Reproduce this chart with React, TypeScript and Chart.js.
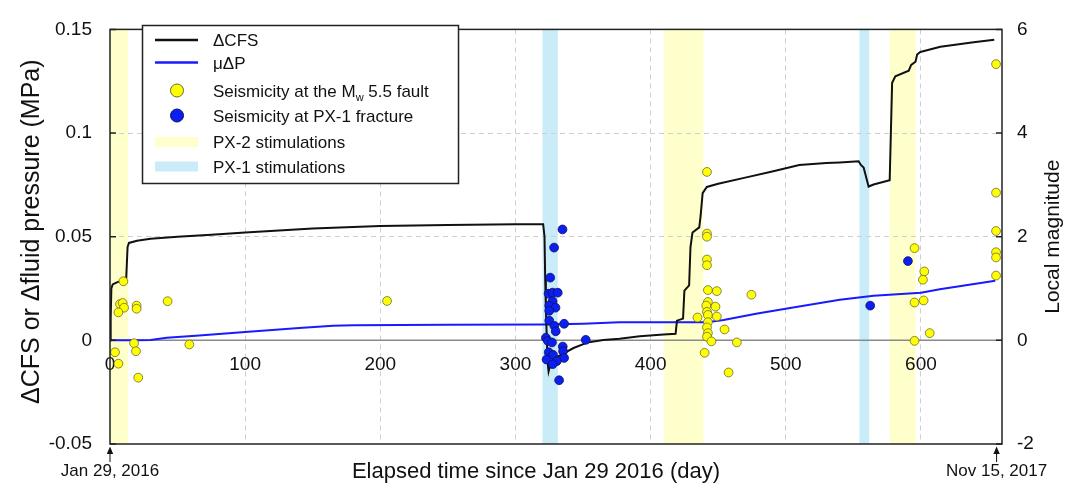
import React, { useEffect, useRef } from 'react';
import { Chart, registerables } from 'chart.js';
Chart.register(...registerables);

// ---------- data ----------
const X_TICKS = [0, 100, 200, 300, 400, 500, 600];
const LEFT_TICKS = [-0.05, 0, 0.05, 0.1, 0.15];
const LEFT_TICK_LABELS = ['-0.05', '0', '0.05', '0.1', '0.15'];
const RIGHT_TICKS = [-2, 0, 2, 4, 6];
const RIGHT_TICK_LABELS = ['-2', '0', '2', '4', '6'];

const CFS_DAYS = [0, 0.5, 1, 2, 5, 10, 12, 13, 14, 20, 30, 50, 75, 100, 150, 200, 250, 300, 320.5,
  321.5, 322, 322.5, 323, 323.5, 324, 324.5, 326, 328, 335, 343, 353, 365, 377, 392, 409.6,
  418.5, 419.5, 424, 425, 428.5, 429.5, 431, 436, 437, 438.5, 441.6, 450, 470, 490, 510, 530, 540,
  553.9, 555.6, 557.6, 559.6, 561.3, 565, 576.9, 578.7, 581.1, 591, 592.8, 596, 597.2, 599.6,
  614.4, 639, 654.3];
const CFS_VALUES = [0, 0.01, 0.025, 0.027, 0.028, 0.029, 0.03, 0.045, 0.047, 0.048, 0.049, 0.05, 0.051,
  0.052, 0.054, 0.0552, 0.0557, 0.056, 0.056,
  0.05, 0.03, 0.015, 0.005, -0.005, -0.012, -0.015, -0.011, -0.009, -0.0065, -0.0037, -0.0011,
  0.0002, 0.0008, 0.002, 0.0028,
  0.0032, 0.0095, 0.0105, 0.024, 0.0265, 0.045, 0.052, 0.0545, 0.06, 0.071, 0.074, 0.0755, 0.0785,
  0.0815, 0.0846, 0.0855, 0.0858,
  0.0864, 0.0846, 0.0834, 0.0784, 0.0742, 0.0752, 0.0773, 0.1243, 0.1274, 0.1301, 0.1329, 0.1344,
  0.1379, 0.1391, 0.1416, 0.1438, 0.145];

const P_DAYS = [0, 20, 30, 42, 66, 100, 140, 165, 180, 250, 320, 350, 377, 392, 442, 454, 479, 511,
  540, 565, 600, 614, 655];
const P_VALUES = [0, 0, 0.0002, 0.0013, 0.0023, 0.004, 0.006, 0.007, 0.0073, 0.0075, 0.0076, 0.008,
  0.0087, 0.0087, 0.0087, 0.0098, 0.013, 0.0165, 0.0196, 0.0215, 0.023, 0.0246, 0.0288];

const FAULT_DAYS = [9.9, 7.4, 9.4, 10.4, 6.2, 19.7, 19.7, 42.6, 17.8, 3.7, 19.2, 58.7, 6.2, 20.9, 205,
  441.7, 441.7, 441.7, 441.7, 441.7, 442.4, 449, 474.6, 442.4, 441.2, 448, 441.7, 434.7, 442.4, 449,
  442.4, 441.7, 454.7, 442.4, 441.7, 445, 463.8, 440, 457.7,
  655.6, 655.6, 655.6, 655.6, 655.6, 655.6, 595.3, 602.5, 601.5, 595.3, 602, 606.5, 595.3];
const FAULT_MAGS = [1.14, 0.7, 0.72, 0.63, 0.54, 0.67, 0.61, 0.755, -0.056, -0.23, -0.21, -0.08, -0.45, -0.72, 0.76,
  3.25, 2.06, 2.0, 1.56, 1.45, 0.97, 0.95, 0.88, 0.74, 0.67, 0.65, 0.55, 0.44, 0.49, 0.46,
  0.35, 0.25, 0.21, 0.14, 0.07, -0.02, -0.04, -0.24, -0.62,
  5.33, 2.85, 2.11, 1.7, 1.6, 1.25, 1.78, 1.33, 1.17, 0.73, 0.77, 0.14, -0.01];

const PX1_DAYS = [334.8, 328.6, 325.7, 324.5, 327.5, 331.3, 327.5, 325, 329.6, 325, 325, 336, 328.8, 329.8,
  352, 322.5, 324, 327, 335, 335.2, 324.6, 327.8, 323, 336, 330.6, 327.5, 332.3, 590.4, 562.5];
const PX1_MAGS = [2.14, 1.79, 1.21, 0.9, 0.92, 0.92, 0.755, 0.67, 0.63, 0.57, 0.38, 0.32, 0.28, 0.175,
  0.01, 0.05, -0.01, -0.04, -0.12, -0.21, -0.23, -0.28, -0.37, -0.34, -0.4, -0.46, -0.77, 1.53, 0.67];

const PX2_BAND_STARTS = [0, 410, 577];
const PX2_BAND_ENDS = [13.5, 439, 596];
const PX1_BAND_STARTS = [320, 554.5];
const PX1_BAND_ENDS = [331.3, 561.7];

const DATE_LABELS = ['Jan 29, 2016', 'Nov 15, 2017'];
const DATE_DAYS = [0, 656];

const LEGEND_LABELS = ['ΔCFS', 'μΔP', 'Seismicity at the M', 'Seismicity at PX-1 fracture', 'PX-2 stimulations', 'PX-1 stimulations'];

// ---------- styles ----------
const FONT = '"Liberation Sans", Arial, sans-serif';
const TEXT = '#111';
const CFS_COLOR = '#111111';
const P_COLOR = '#1a1aff';
const YELLOW = '#ffff00';
const YELLOW_EDGE = '#6a6a30';
const BLUE = '#0a1ff0';
const BLUE_EDGE = '#101060';
const PX2_FILL = 'rgb(255,255,204)';
const PX1_FILL = 'rgb(202,236,249)';
const GRID = '#cfcfcf';

const overlay = {
  id: 'overlay',
  beforeDraw(chart: any) {
    const { ctx, chartArea: a, scales } = chart;
    const x = scales.x;
    ctx.save();
    const band = (s: number[], e: number[], color: string) => {
      s.forEach((v, i) => {
        const x0 = x.getPixelForValue(v);
        const x1 = x.getPixelForValue(e[i]);
        ctx.fillStyle = color;
        ctx.fillRect(x0, a.top, x1 - x0, a.bottom - a.top);
      });
    };
    band(PX2_BAND_STARTS, PX2_BAND_ENDS, PX2_FILL);
    band(PX1_BAND_STARTS, PX1_BAND_ENDS, PX1_FILL);
    ctx.restore();
  },
  beforeDatasetsDraw(chart: any) {
    const { ctx, chartArea: a, scales } = chart;
    const x = scales.x;
    const y0 = scales.y.getPixelForValue(0);
    ctx.save();
    ctx.strokeStyle = '#8a8a8a';
    ctx.lineWidth = 1.5;
    ctx.beginPath();
    ctx.moveTo(a.left, y0);
    ctx.lineTo(a.right, y0);
    ctx.stroke();
    ctx.fillStyle = TEXT;
    ctx.font = `19px ${FONT}`;
    ctx.textAlign = 'center';
    ctx.textBaseline = 'middle';
    X_TICKS.forEach((t) => {
      ctx.fillText(String(t), x.getPixelForValue(t), y0 + 24);
    });
    ctx.restore();
  },
  afterDraw(chart: any) {
    const { ctx, chartArea: a, scales } = chart;
    const x = scales.x;
    ctx.save();
    // frame
    ctx.strokeStyle = '#222';
    ctx.lineWidth = 1.5;
    ctx.strokeRect(a.left, a.top, a.right - a.left, a.bottom - a.top);
    // inner ticks
    ctx.beginPath();
    LEFT_TICKS.forEach((t) => {
      const py = scales.y.getPixelForValue(t);
      ctx.moveTo(a.left, py);
      ctx.lineTo(a.left + 6, py);
    });
    RIGHT_TICKS.forEach((t) => {
      const py = scales.y2.getPixelForValue(t);
      ctx.moveTo(a.right - 6, py);
      ctx.lineTo(a.right, py);
    });
    ctx.stroke();

    // axis titles
    ctx.fillStyle = TEXT;
    ctx.textAlign = 'center';
    ctx.textBaseline = 'middle';
    const cy = (a.top + a.bottom) / 2;
    ctx.save();
    ctx.translate(32, cy - 5);
    ctx.rotate(-Math.PI / 2);
    ctx.font = `25px ${FONT}`;
    ctx.fillText('ΔCFS or Δfluid pressure (MPa)', 0, 0);
    ctx.restore();
    ctx.save();
    ctx.translate(1053, cy);
    ctx.rotate(-Math.PI / 2);
    ctx.font = `21px ${FONT}`;
    ctx.fillText('Local magnitude', 0, 0);
    ctx.restore();
    ctx.font = `22px ${FONT}`;
    ctx.fillText('Elapsed time since Jan 29 2016 (day)', 536, 472);

    // date arrows
    ctx.font = `17px ${FONT}`;
    DATE_DAYS.forEach((d, i) => {
      const px = x.getPixelForValue(d);
      ctx.strokeStyle = '#111';
      ctx.lineWidth = 1;
      ctx.beginPath();
      ctx.moveTo(px, 452);
      ctx.lineTo(px, 462);
      ctx.stroke();
      ctx.fillStyle = '#111';
      ctx.beginPath();
      ctx.moveTo(px, 446.5);
      ctx.lineTo(px - 3.2, 454);
      ctx.lineTo(px + 3.2, 454);
      ctx.closePath();
      ctx.fill();
      ctx.fillStyle = TEXT;
      ctx.fillText(DATE_LABELS[i], px, 471);
    });

    // legend
    const lx = 142.5, ly = 25.5, lw = 316, lh = 158;
    ctx.fillStyle = '#fff';
    ctx.fillRect(lx, ly, lw, lh);
    ctx.strokeStyle = '#222';
    ctx.lineWidth = 1.5;
    ctx.strokeRect(lx, ly, lw, lh);
    const rows = [40, 62.5, 90.5, 115.5, 142, 166.5];
    ctx.lineWidth = 2.5;
    ctx.strokeStyle = CFS_COLOR;
    ctx.beginPath(); ctx.moveTo(155, rows[0]); ctx.lineTo(198, rows[0]); ctx.stroke();
    ctx.strokeStyle = P_COLOR;
    ctx.beginPath(); ctx.moveTo(155, rows[1]); ctx.lineTo(198, rows[1]); ctx.stroke();
    ctx.lineWidth = 1;
    ctx.fillStyle = YELLOW; ctx.strokeStyle = YELLOW_EDGE;
    ctx.beginPath(); ctx.arc(177, rows[2], 6.5, 0, Math.PI * 2); ctx.fill(); ctx.stroke();
    ctx.fillStyle = BLUE; ctx.strokeStyle = BLUE_EDGE;
    ctx.beginPath(); ctx.arc(177, rows[3], 6.5, 0, Math.PI * 2); ctx.fill(); ctx.stroke();
    ctx.fillStyle = PX2_FILL; ctx.fillRect(155, rows[4] - 5, 43, 10);
    ctx.fillStyle = PX1_FILL; ctx.fillRect(155, rows[5] - 5, 43, 10);

    ctx.fillStyle = TEXT;
    ctx.textAlign = 'left';
    ctx.textBaseline = 'alphabetic';
    ctx.font = `17px ${FONT}`;
    const base = (r: number) => r + 6;
    LEGEND_LABELS.forEach((t, i) => {
      if (i === 2) {
        ctx.font = `17px ${FONT}`;
        ctx.fillText(t, 213, base(rows[i]));
        let w = ctx.measureText(t).width;
        ctx.font = `11px ${FONT}`;
        ctx.fillText('w', 213 + w, base(rows[i]) + 4);
        w += ctx.measureText('w').width;
        ctx.font = `17px ${FONT}`;
        ctx.fillText(' 5.5 fault', 213 + w, base(rows[i]));
      } else {
        ctx.fillText(t, 213, base(rows[i]));
      }
    });
    ctx.restore();
  },
};

export default function App() {
  const ref = useRef<HTMLCanvasElement>(null);
  useEffect(() => {
    document.body.style.margin = '0';
    const gridColor = (vals: number[]) => (c: any) =>
      vals.some((v) => Math.abs(v - c.tick.value) < 1e-9) ? GRID : 'rgba(0,0,0,0)';
    const chart = new Chart(ref.current as HTMLCanvasElement, {
      type: 'scatter',
      data: {
        datasets: [
          {
            label: 'PX-1',
            data: PX1_DAYS.map((d, i) => ({ x: d, y: PX1_MAGS[i] })),
            yAxisID: 'y2',
            backgroundColor: BLUE,
            borderColor: BLUE_EDGE,
            borderWidth: 0.8,
            pointRadius: 4.4,
            order: 0,
          },
          {
            label: 'Fault',
            data: FAULT_DAYS.map((d, i) => ({ x: d, y: FAULT_MAGS[i] })),
            yAxisID: 'y2',
            backgroundColor: YELLOW,
            borderColor: YELLOW_EDGE,
            borderWidth: 0.8,
            pointRadius: 4.4,
            order: 1,
          },
          {
            type: 'line',
            label: 'ΔCFS',
            data: CFS_DAYS.map((d, i) => ({ x: d, y: CFS_VALUES[i] })),
            yAxisID: 'y',
            borderColor: CFS_COLOR,
            borderWidth: 2,
            pointRadius: 0,
            tension: 0,
            order: 2,
          } as any,
          {
            type: 'line',
            label: 'μΔP',
            data: P_DAYS.map((d, i) => ({ x: d, y: P_VALUES[i] })),
            yAxisID: 'y',
            borderColor: P_COLOR,
            borderWidth: 2,
            pointRadius: 0,
            tension: 0,
            order: 3,
          } as any,
        ],
      },
      options: {
        responsive: false,
        animation: false,
        devicePixelRatio: 1,
        events: [],
        layout: { padding: { top: 17, left: 0, right: 0, bottom: 0 } },
        plugins: { legend: { display: false }, tooltip: { enabled: false } },
        scales: {
          x: {
            type: 'linear',
            position: 'bottom',
            min: 0,
            max: 660,
            afterBuildTicks: (s: any) => { s.ticks = X_TICKS.map((v) => ({ value: v })); },
            afterFit: (s: any) => { s.height = 45; },
            ticks: { display: false },
            grid: { color: gridColor([100, 200, 300, 400, 500, 600]), drawTicks: false, lineWidth: 1 },
            border: { display: false, dash: [5, 4] },
          },
          y: {
            type: 'linear',
            position: 'left',
            min: -0.05,
            max: 0.15,
            afterBuildTicks: (s: any) => { s.ticks = LEFT_TICKS.map((v) => ({ value: v })); },
            afterFit: (s: any) => { s.width = 110; },
            ticks: {
              padding: 18,
              color: TEXT,
              font: { family: FONT, size: 19 },
              callback: (v: any) => LEFT_TICK_LABELS[LEFT_TICKS.findIndex((t) => Math.abs(t - v) < 1e-9)] ?? '',
            },
            grid: { color: gridColor([0.05, 0.1]), drawTicks: false, lineWidth: 1 },
            border: { display: false, dash: [5, 4] },
          },
          y2: {
            type: 'linear',
            position: 'right',
            min: -2,
            max: 6,
            afterBuildTicks: (s: any) => { s.ticks = RIGHT_TICKS.map((v) => ({ value: v })); },
            afterFit: (s: any) => { s.width = 65; },
            ticks: {
              padding: 15,
              color: TEXT,
              font: { family: FONT, size: 19 },
              callback: (v: any) => RIGHT_TICK_LABELS[RIGHT_TICKS.findIndex((t) => Math.abs(t - v) < 1e-9)] ?? '',
            },
            grid: { display: false, drawTicks: false },
            border: { display: false },
          },
        },
      },
      plugins: [overlay as any],
    } as any);
    return () => chart.destroy();
  }, []);
  return (
    <div style={{ width: 1067, height: 489 }}>
      <canvas ref={ref} width={1067} height={489} style={{ display: 'block' }} />
    </div>
  );
}
